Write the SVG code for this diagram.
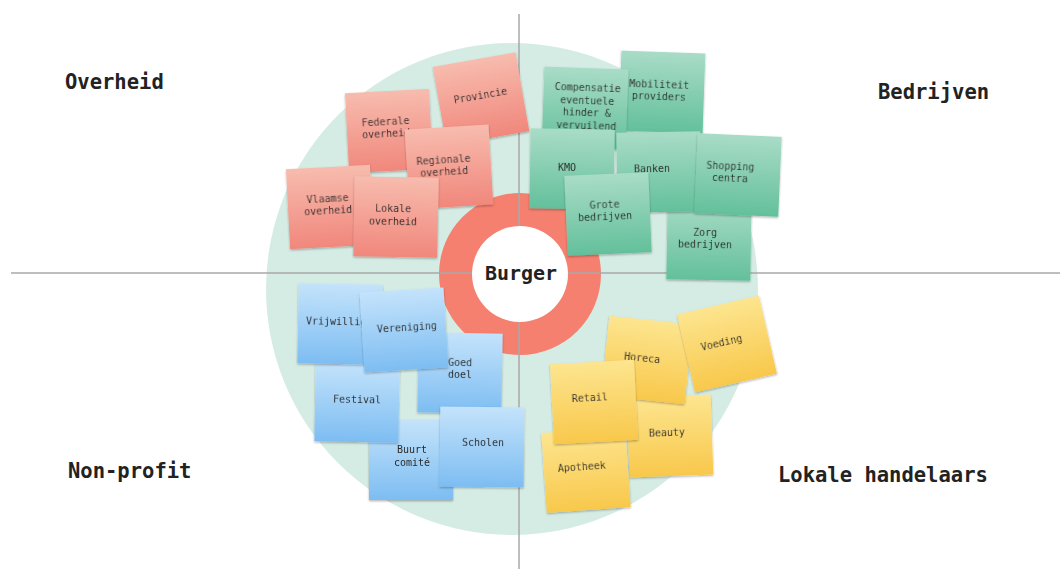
<svg xmlns="http://www.w3.org/2000/svg" width="1060" height="569" viewBox="0 0 1060 569">
<defs>
<linearGradient id="gRed" x1="0" y1="0" x2="0" y2="1"><stop offset="0" stop-color="#f7bcae"/><stop offset="1" stop-color="#f1877c"/></linearGradient>
<linearGradient id="gGreen" x1="0" y1="0" x2="0" y2="1"><stop offset="0" stop-color="#a9dcc7"/><stop offset="1" stop-color="#63c09b"/></linearGradient>
<linearGradient id="gBlue" x1="0" y1="0" x2="0" y2="1"><stop offset="0" stop-color="#c4e3fb"/><stop offset="1" stop-color="#7dbdf2"/></linearGradient>
<linearGradient id="gYellow" x1="0" y1="0" x2="0" y2="1"><stop offset="0" stop-color="#fde58f"/><stop offset="1" stop-color="#f8c84b"/></linearGradient>
<filter id="sh" x="-10%" y="-10%" width="120%" height="125%"><feDropShadow dx="0" dy="1.2" stdDeviation="1.2" flood-color="#000" flood-opacity="0.3"/></filter>
</defs>
<style>
.note{filter:url(#sh);}
.red{fill:url(#gRed);}
.green{fill:url(#gGreen);}
.blue{fill:url(#gBlue);}
.yellow{fill:url(#gYellow);}
.nt{font-family:"DejaVu Sans Mono","Liberation Mono",monospace;font-size:10px;fill:#2a2a2a;text-anchor:middle;}
.lbl{font-family:"DejaVu Sans Mono","Liberation Mono",monospace;font-size:20.5px;font-weight:bold;fill:#222;}
.axis{stroke:#a8a8a8;stroke-width:1.5;fill:none;}
</style>
<rect width="1060" height="569" fill="#ffffff"/>
<g id="background">
<circle cx="512" cy="289" r="246" fill="#d5ece4"/>
<circle cx="520" cy="274" r="81" fill="#f5806f"/>
</g>
<g id="axes">
<line class="axis" x1="11" y1="273" x2="1060" y2="273"/>
<line class="axis" x1="519" y1="14" x2="519" y2="569"/>
</g>
<g id="burger">
<circle cx="520" cy="274" r="48" fill="#ffffff"/>
<text class="lbl" x="521" y="280" text-anchor="middle" style="font-size:20px">Burger</text>
</g>
<g id="labels">
<text class="lbl" x="65" y="89">Overheid</text>
<text class="lbl" x="878" y="99">Bedrijven</text>
<text class="lbl" x="68" y="478">Non-profit</text>
<text class="lbl" x="778" y="482">Lokale handelaars</text>
</g>
<g id="overheid">
<g id="federale" class="note" transform="translate(389,131) rotate(-3)"><rect class="red" x="-42" y="-40" width="84" height="80"/><text class="nt"><tspan x="-3" y="-6">Federale</tspan><tspan x="-3" y="6">overheid</tspan></text></g>
<g id="provincie" class="note" transform="translate(481,99) rotate(-10)"><rect class="red" x="-42" y="-40" width="84" height="80"/><text class="nt" x="0" y="0">Provincie</text></g>
<g id="vlaamse" class="note" transform="translate(330,207) rotate(-3)"><rect class="red" x="-42" y="-40" width="84" height="80"/><text class="nt"><tspan x="-2" y="-5">Vlaamse</tspan><tspan x="-2" y="7">overheid</tspan></text></g>
<g id="regionale" class="note" transform="translate(449,167) rotate(-3.5)"><rect class="red" x="-42" y="-40" width="84" height="80"/><text class="nt"><tspan x="-5" y="-4">Regionale</tspan><tspan x="-5" y="8">overheid</tspan></text></g>
<g id="lokale" class="note" transform="translate(396,217) rotate(1)"><rect class="red" x="-42" y="-40" width="84" height="80"/><text class="nt"><tspan x="-3" y="-5">Lokale</tspan><tspan x="-3" y="8">overheid</tspan></text></g>
</g>
<g id="bedrijven">
<g id="mobiliteit" class="note" transform="translate(662,92) rotate(2)"><rect class="green" x="-42" y="-40" width="84" height="80"/><text class="nt"><tspan x="-3" y="-4">Mobiliteit</tspan><tspan x="-3" y="8">providers</tspan></text></g>
<g id="compensatie" class="note" transform="translate(585,108) rotate(2)"><rect class="green" x="-42" y="-40" width="84" height="80"/><text class="nt"><tspan x="2" y="-17">Compensatie</tspan><tspan x="2" y="-4">eventuele</tspan><tspan x="2" y="8">hinder &amp;</tspan><tspan x="2" y="21">vervuilend</tspan></text></g>
<g id="zorg" class="note" transform="translate(709,240) rotate(1)"><rect class="green" x="-42" y="-40" width="84" height="80"/><text class="nt"><tspan x="-4" y="-4">Zorg</tspan><tspan x="-4" y="8">bedrijven</tspan></text></g>
<g id="banken" class="note" transform="translate(659,172) rotate(-1)"><rect class="green" x="-42" y="-40" width="84" height="80"/><text class="nt" x="-7" y="0">Banken</text></g>
<g id="shopping" class="note" transform="translate(738,175) rotate(2.5)"><rect class="green" x="-42" y="-40" width="84" height="80"/><text class="nt"><tspan x="-8" y="-5">Shopping</tspan><tspan x="-8" y="7">centra</tspan></text></g>
<g id="kmo" class="note" transform="translate(572,169) rotate(1)"><rect class="green" x="-42" y="-40" width="84" height="80"/><text class="nt" x="-5" y="2">KMO</text></g>
<g id="grote" class="note" transform="translate(608,214) rotate(-2.5)"><rect class="green" x="-42" y="-40" width="84" height="80"/><text class="nt"><tspan x="-3" y="-6">Grote</tspan><tspan x="-3" y="6">bedrijven</tspan></text></g>
</g>
<g id="nonprofit">
<g id="buurt" class="note" transform="translate(411,460)"><rect class="blue" x="-42" y="-40" width="84" height="80"/><text class="nt"><tspan x="1" y="-7">Buurt</tspan><tspan x="1" y="6">comité</tspan></text></g>
<g id="goeddoel" class="note" transform="translate(460,373) rotate(1)"><rect class="blue" x="-42" y="-40" width="84" height="80"/><text class="nt"><tspan x="0" y="-7">Goed</tspan><tspan x="0" y="5">doel</tspan></text></g>
<g id="scholen" class="note" transform="translate(482,447) rotate(0.5)"><rect class="blue" x="-42" y="-40" width="84" height="80"/><text class="nt" x="1" y="-1">Scholen</text></g>
<g id="festival" class="note" transform="translate(357,402) rotate(1)"><rect class="blue" x="-42" y="-40" width="84" height="80"/><text class="nt" x="0" y="1">Festival</text></g>
<g id="vrijwilligers" class="note" transform="translate(340,324) rotate(1)"><rect class="blue" x="-42" y="-40" width="84" height="80"/><text class="nt" x="-34" y="1" style="text-anchor:start">Vrijwilligers</text></g>
<g id="vereniging" class="note" transform="translate(404,330) rotate(-3.5)"><rect class="blue" x="-42" y="-40" width="84" height="80"/><text class="nt" x="3" y="1">Vereniging</text></g>
</g>
<g id="handelaars">
<g id="beauty" class="note" transform="translate(670,436) rotate(-2)"><rect class="yellow" x="-42" y="-40" width="84" height="80"/><text class="nt" x="-3" y="0">Beauty</text></g>
<g id="apotheek" class="note" transform="translate(586,470) rotate(-4)"><rect class="yellow" x="-42" y="-40" width="84" height="80"/><text class="nt" x="-4" y="0">Apotheek</text></g>
<g id="horeca" class="note" transform="translate(647,360) rotate(6)"><rect class="yellow" x="-42" y="-40" width="84" height="80"/><text class="nt" x="-5" y="2">Horeca</text></g>
<g id="voeding" class="note" transform="translate(727,344) rotate(-13)"><rect class="yellow" x="-42" y="-40" width="84" height="80"/><text class="nt" x="-5" y="1">Voeding</text></g>
<g id="retail" class="note" transform="translate(594,402) rotate(-3)"><rect class="yellow" x="-42" y="-40" width="84" height="80"/><text class="nt" x="-4" y="-1">Retail</text></g>
</g>
</svg>
